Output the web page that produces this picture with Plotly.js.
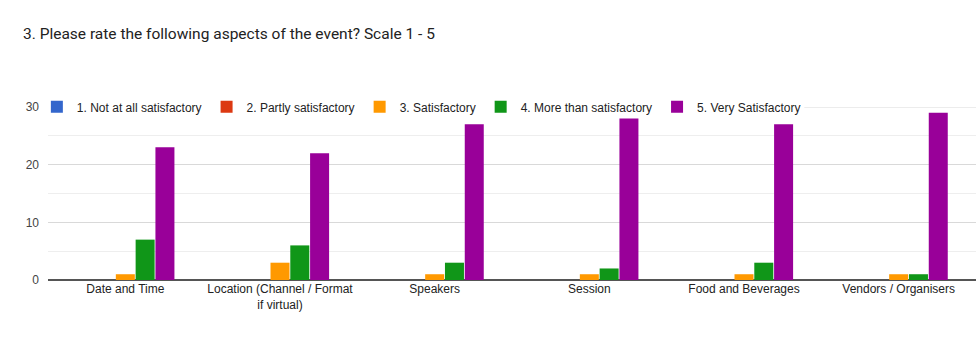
<!DOCTYPE html>
<html><head><meta charset="utf-8">
<script src="https://cdn.plot.ly/plotly-3.0.1.min.js"></script>
<style>html,body{margin:0;padding:0;background:#fff;}#chart{width:976px;height:353px;}</style>
</head><body><div id="chart"></div>
<script>
const categories = ["Date and Time", "Location (Channel / Format<br>if virtual)", "Speakers", "Session", "Food and Beverages", "Vendors / Organisers"];
const seriesNames = ["1. Not at all satisfactory", "2. Partly satisfactory", "3. Satisfactory", "4. More than satisfactory", "5. Very Satisfactory"];
const notAtAll = [0, 0, 0, 0, 0, 0];
const partly = [0, 0, 0, 0, 0, 0];
const satisfactory = [1, 3, 1, 1, 1, 1];
const moreThan = [7, 6, 3, 2, 3, 1];
const very = [23, 22, 27, 28, 27, 29];
const colors = ["#3366cc", "#dc3912", "#ff9900", "#109618", "#990099"];
const allSeries = [notAtAll, partly, satisfactory, moreThan, very];

const traces = allSeries.map((vals, i) => ({
  type: 'bar', x: categories, y: vals, name: seriesNames[i],
  marker: {color: colors[i]}, hoverinfo: 'none'
}));

const layout = {
  width: 976, height: 353,
  margin: {l: 48, r: 0, t: 107, b: 73},
  paper_bgcolor: '#fff', plot_bgcolor: '#fff',
  font: {family: 'Arial, Liberation Sans, sans-serif', size: 12, color: '#444'},
  title: {text: '3. Please rate the following aspects of the event? Scale 1 - 5',
          x: 0, xref: 'paper', xanchor: 'left', y: 0.905, yref: 'container', yanchor: 'middle',
          pad: {l: -25}, font: {family: 'Roboto, sans-serif', size: 15.5, color: '#222'}},
  barmode: 'group', bargap: 0.36, bargroupgap: 0.04,
  showlegend: true,
  legend: {orientation: 'h', x: -0.012, xanchor: 'left', y: 1.001, yanchor: 'middle', bgcolor: 'rgba(0,0,0,0)',
           font: {size: 12, color: '#222'}, traceorder: 'normal', itemwidth: 30},
  xaxis: {type: 'category', showgrid: false, ticks: '', showline: false, tickfont: {size: 12, color: '#222'}},
  yaxis: {range: [0, 30], dtick: 10, gridcolor: '#d9d9d9', zeroline: true, zerolinecolor: '#555', zerolinewidth: 1.5,
          ticks: '', tickfont: {size: 12, color: '#444'}, ticklabelstandoff: 8,
          minor: {dtick: 5, showgrid: true, gridcolor: '#eeeeee'}},
  shapes: [{type: 'line', xref: 'paper', yref: 'y', x0: 0.815, x1: 1, y0: 30, y1: 30,
            line: {color: '#d9d9d9', width: 1}, layer: 'below'}]
};
Plotly.newPlot('chart', traces, layout, {displayModeBar: false, staticPlot: true});
</script></body></html>
